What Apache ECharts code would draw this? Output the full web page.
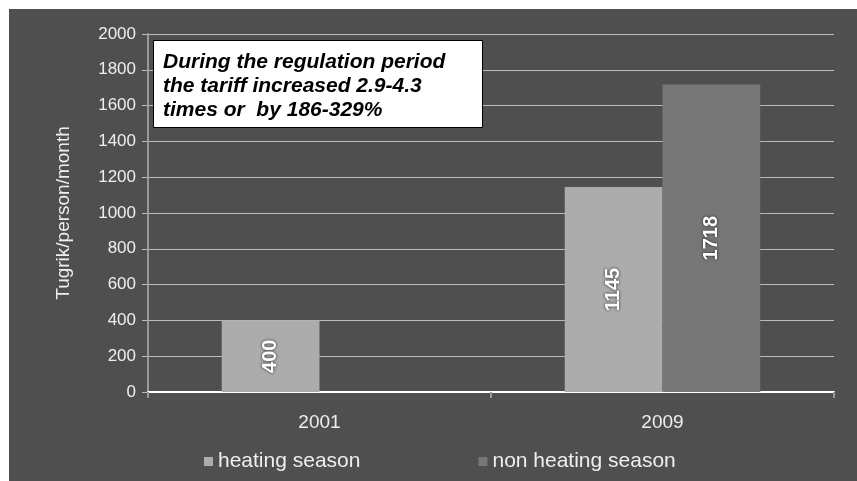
<!DOCTYPE html>
<html><head><meta charset="utf-8">
<script src="https://cdn.jsdelivr.net/npm/echarts@6/dist/echarts.min.js"></script>
<style>html,body{margin:0;padding:0;background:#fff}#c{width:857px;height:481px}</style>
</head><body><div id="c"></div>
<script>
const categories = ['2001', '2009'];
const heatingSeason = [400, 1145];
const nonHeatingSeason = [0, 1718];
const seriesNames = ['heating season', 'non heating season'];
const yTicks = {min: 0, max: 2000, interval: 200};
const yAxisName = 'Tugrik/person/month';
const noteLines = ['During the regulation period', 'the tariff increased 2.9-4.3', 'times or  by 186-329%'];

const chart = echarts.init(document.getElementById('c'), null, {renderer: 'canvas'});
const labelCfg = {
  show: true, position: 'inside', rotate: 90, color: '#fff', fontWeight: 'bold',
  fontFamily: 'Arial', fontSize: 20, textShadowColor: '#222', textShadowBlur: 3,
  formatter: p => p.value ? String(p.value) : ''
};
chart.setOption({
  backgroundColor: '#ffffff',
  animation: false,
  graphic: [
    {type: 'rect', z: -10, left: 9, top: 9, shape: {width: 848, height: 472}, style: {fill: '#4f4f4f'}},
    {type: 'rect', z: 100, zlevel: 1, left: 153, top: 40, shape: {width: 329, height: 87}, style: {fill: '#fff', stroke: '#000', lineWidth: 1}},
    {type: 'text', z: 101, zlevel: 1, left: 163, top: 50, style: {text: noteLines.join('\n'), font: 'italic bold 21px Arial', fill: '#000', lineHeight: 24}}
  ],
  grid: {left: 148, right: 23, top: 34, bottom: 89},
  legend: {
    left: 199, bottom: 4, itemWidth: 9, itemHeight: 9, itemGap: 118,
    icon: 'rect',
    textStyle: {color: '#eee', fontSize: 21, fontFamily: 'Arial'},
    data: seriesNames
  },
  xAxis: {
    type: 'category', data: categories,
    axisLine: {lineStyle: {color: '#ffffff', width: 2}},
    axisTick: {show: true, length: 6, lineStyle: {color: '#999', width: 2}},
    axisLabel: {color: '#eee', fontSize: 19, fontFamily: 'Arial', margin: 21}
  },
  yAxis: {
    type: 'value', min: yTicks.min, max: yTicks.max, interval: yTicks.interval,
    name: yAxisName, nameLocation: 'middle', nameGap: 75,
    nameTextStyle: {color: '#eee', fontSize: 19, fontFamily: 'Arial'},
    axisLine: {show: true, lineStyle: {color: '#999', width: 2}},
    axisTick: {show: true, length: 6, lineStyle: {color: '#bbb'}},
    axisLabel: {color: '#eee', fontSize: 17, fontFamily: 'Arial', margin: 12, formatter: v => String(v)},
    splitLine: {lineStyle: {color: '#bbb', width: 1}}
  },
  series: [
    {name: seriesNames[0], type: 'bar', data: heatingSeason, barWidth: '28.5%', barGap: '0%',
     itemStyle: {color: '#acacac'}, label: labelCfg},
    {name: seriesNames[1], type: 'bar', data: nonHeatingSeason, barWidth: '28.5%', barGap: '0%',
     itemStyle: {color: '#777777'}, label: labelCfg}
  ]
});
</script></body></html>
